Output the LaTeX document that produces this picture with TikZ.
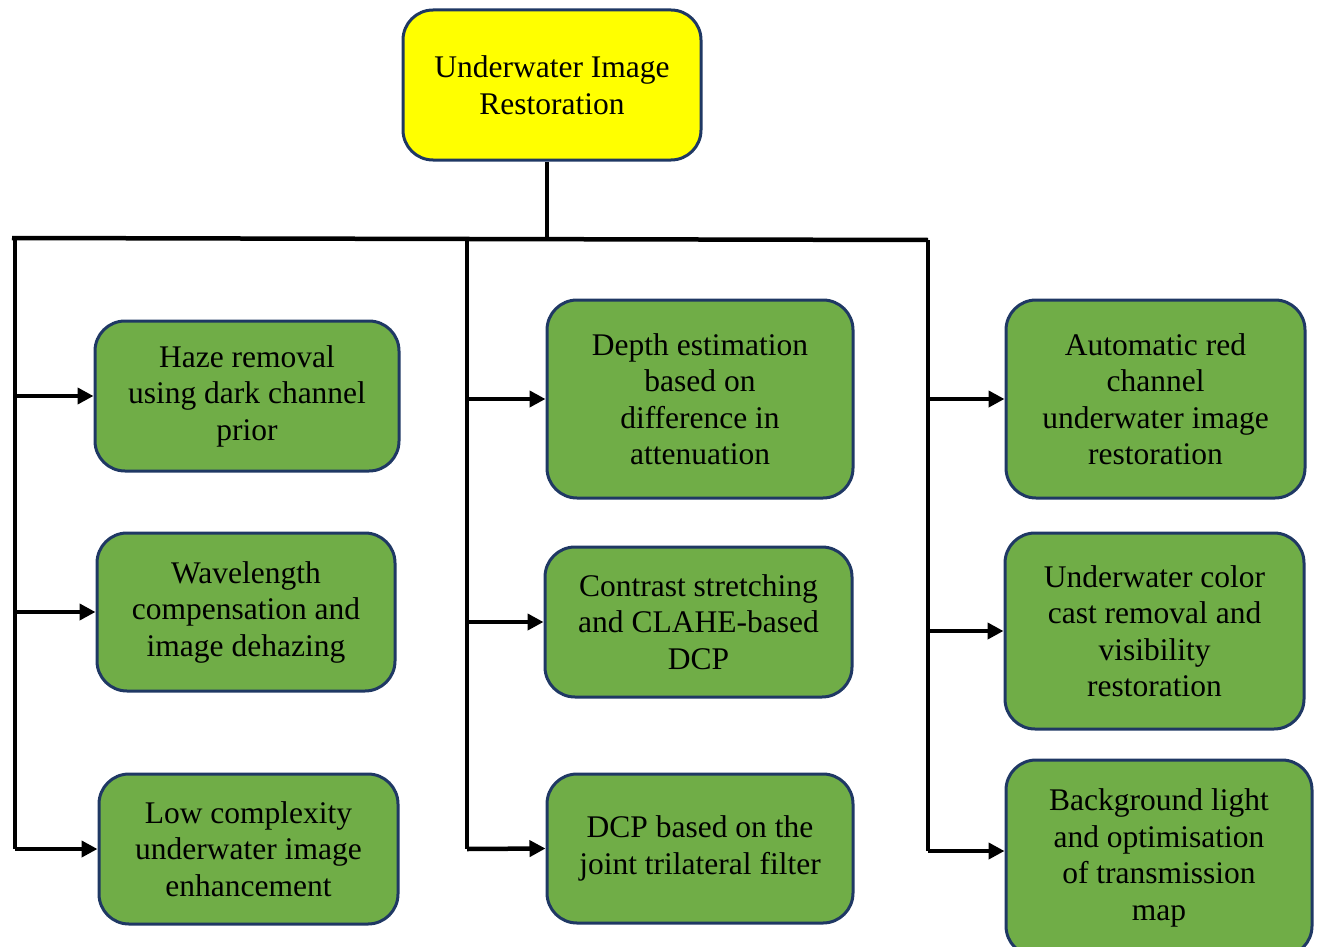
\documentclass[tikz,border=0pt]{standalone}
\usepackage{fontspec}
\setmainfont{Liberation Serif}
\usetikzlibrary{arrows.meta}
\definecolor{boxgreen}{HTML}{70AD47}
\definecolor{boxborder}{HTML}{1F3864}
\definecolor{rootyellow}{HTML}{FFFF00}
\tikzset{
  box/.style={draw=boxborder, line width=3pt, rounded corners=30pt, fill=boxgreen,
    align=center, inner sep=0pt,
    font=\fontsize{31.5}{36.5}\selectfont},
  rootbox/.style={box, fill=rootyellow},
  conn/.style={line width=4.5pt, black},
  arr/.style={conn, -{Triangle[length=16pt,width=16pt]}}
}
\begin{document}
\begin{tikzpicture}[x=1pt,y=-1pt]
\useasboundingbox (0,0) rectangle (1319,947);
% nodes
\node[rootbox, minimum width=298pt, minimum height=150pt] (root) at (552,85)
  {Underwater Image\\Restoration};
\node[box, minimum width=304pt, minimum height=150pt] (b1) at (247,396)
  {Haze removal\\using dark channel\\prior};
\node[box, minimum width=298pt, minimum height=158pt] (b2) at (246,612)
  {Wavelength\\compensation and\\image dehazing};
\node[box, minimum width=299pt, minimum height=150pt] (b3) at (248.5,849)
  {Low complexity\\underwater image\\enhancement};
\node[box, minimum width=306pt, minimum height=198pt] (m1) at (700,399)
  {Depth estimation\\based on\\difference in\\attenuation};
\node[box, minimum width=307pt, minimum height=150pt] (m2) at (698.5,622)
  {Contrast stretching\\and CLAHE-based\\DCP};
\node[box, minimum width=306pt, minimum height=149pt] (m3) at (700,848.5)
  {DCP based on the\\joint trilateral filter};
\node[box, minimum width=299pt, minimum height=198pt] (r1) at (1155.5,399)
  {Automatic red\\channel\\underwater image\\restoration};
\node[box, minimum width=299pt, minimum height=196pt] (r2) at (1154.5,631)
  {Underwater color\\cast removal and\\visibility\\restoration};
\node[box, minimum width=306pt, minimum height=196pt] (r3) at (1159,858)
  {Background light\\and optimisation\\of transmission\\map};
% bus coordinates
\coordinate (busL) at (12,238);
\coordinate (busR) at (928,240);
\coordinate (lv) at (15,238);
\coordinate (mv) at (467,239);
\coordinate (rv) at (928,240);
\coordinate (lvb) at (15,849);
\coordinate (mvb) at (467,849);
\coordinate (rvb) at (928,851);
% connectors
\draw[conn] (root.south -| 547,0) -- (547,238);
\draw[conn] (busL) -- (busR);
\draw[conn] (lv) -- (lvb);
\draw[conn] (mv) -- (mvb);
\draw[conn] (rv) -- (rvb);
\draw[arr] (lv |- b1.west) -- (b1.west);
\draw[arr] (lv |- b2.west) -- (b2.west);
\draw[arr] (lvb) -- (b3.west);
\draw[arr] (mv |- m1.west) -- (m1.west);
\draw[arr] (mv |- m2.west) -- (m2.west);
\draw[arr] (mvb) -- (m3.west);
\draw[arr] (rv |- r1.west) -- (r1.west);
\draw[arr] (rv |- r2.west) -- (r2.west);
\draw[arr] (rvb) -- (rvb -| r3.west);
\end{tikzpicture}
\end{document}
